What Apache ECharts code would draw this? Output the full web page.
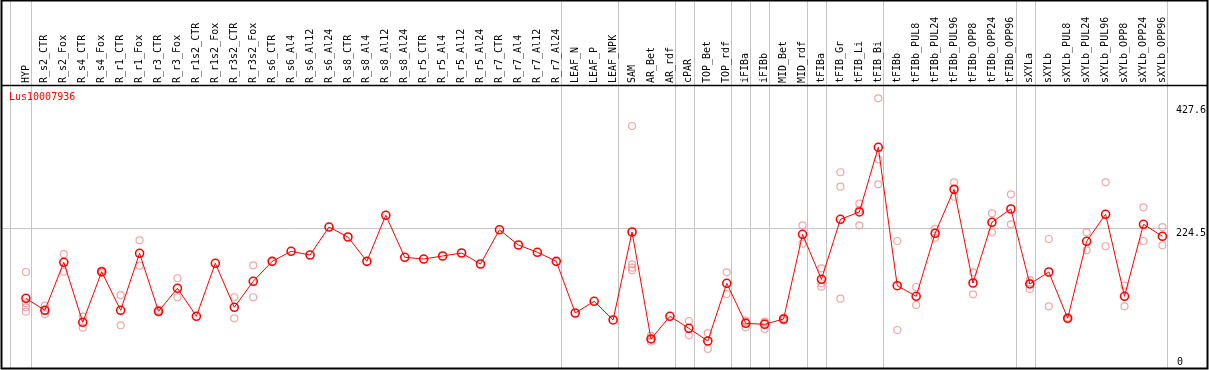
<!DOCTYPE html>
<html>
<head>
<meta charset="utf-8">
<script src="https://cdn.jsdelivr.net/npm/echarts@6/dist/echarts.min.js"></script>
<style>
html,body{margin:0;padding:0;background:#fff;}
#chart{width:1209px;height:370px;}
</style>
</head>
<body>
<div id="chart"></div>
<script>
const title = 'Lus10007936';
const categories = ['HYP','R_s2_CTR','R_s2_Fox','R_s4_CTR','R_s4_Fox','R_r1_CTR','R_r1_Fox','R_r3_CTR','R_r3_Fox','R_r1s2_CTR','R_r1s2_Fox','R_r3s2_CTR','R_r3s2_Fox','R_s6_CTR','R_s6_Al4','R_s6_Al12','R_s6_Al24','R_s8_CTR','R_s8_Al4','R_s8_Al12','R_s8_Al24','R_r5_CTR','R_r5_Al4','R_r5_Al12','R_r5_Al24','R_r7_CTR','R_r7_Al4','R_r7_Al12','R_r7_Al24','LEAF_N','LEAF_P','LEAF_NPK','SAM','AR_Bet','AR_rdf','cPAR','TOP_Bet','TOP_rdf','iFIBa','iFIBb','MID_Bet','MID_rdf','tFIBa','tFIB_Gr','tFIB_Li','tFIB_Bi','tFIBb','tFIBb_PUL8','tFIBb_PUL24','tFIBb_PUL96','tFIBb_OPP8','tFIBb_OPP24','tFIBb_OPP96','sXYLa','sXYLb','sXYLb_PUL8','sXYLb_PUL24','sXYLb_PUL96','sXYLb_OPP8','sXYLb_OPP24','sXYLb_OPP96'];
const means = [109.2,89.4,168.5,69.7,153,89.4,183.3,87.8,125.7,79.6,166.9,94.4,137.2,170.1,186.6,180.5,226.6,210.2,170.1,245.9,176.7,173.9,178.9,183.8,165.7,222,197,185,170.1,85,104.3,73.5,218.4,42.2,79.6,59.8,38.9,133.9,68,66.4,75.1,214.6,140.5,239.3,251.4,357.9,130,112.5,216.3,288.7,134.4,234.4,256.3,132.8,152.5,76.3,203.1,247.6,112.5,231.1,211.3];
const replicates = [
 [152.5,101,94.4,87.1],[97,89,83],[182,153],[79,60.8],[155,151],[114.6,64.7],[204.7,162.9],[90,86],[142.2,110.9],[],
 [],[110.9,76.3],[163.6,110.9],[],[],[],[],[],[],[],
 [],[],[],[],[],[],[],[],[],[],
 [],[],[393,165.2,159.6,155.3],[47.6,42,37.7],[],[71.8,48.3],[52,25.7],[152,116.3],[72.3,70,61.4],[71,69,58.6],
 [77,73],[229.4,199.1],[158.6,134,128.3],[316.8,293,108.6],[265,254.7,229.4],[438.6,338.2,297],[203.6,57],[127.8,98.2],[223.4,209],[300.3,276.6],
 [152,115.8],[249.2,217.9],[280.5,231.1],[139.3,134,124.5],[206.9,96],[78,75],[217.9,188.3],[300.3,194.9],[130,96],[259.1,203.6],
 [226.6,196.5]
];
const yTicksTop = [224.5, 427.6];
const yTicksBottom = [0];
const groupEnds = [0, 28, 31, 34, 35, 37, 38, 39, 41, 42, 45, 52, 53, 60];
const leftFrameLine = -0.84;

const mono = 'DejaVu Sans Mono';
const chart = echarts.init(document.getElementById('chart'), null, {renderer: 'canvas'});

const meanData = means.map((v, i) => [i, v]);
const repData = [];
replicates.forEach((arr, i) => arr.forEach(v => repData.push([i, v])));
const idx = categories.map((c, i) => i);

const xMin = -25 / 19;
const xMax = (1170.5 - 26) / 19;

chart.setOption({
  animation: false,
  backgroundColor: '#fff',
  title: {
    text: title, left: 9, top: 92, padding: 0,
    textStyle: {color: '#ff0000', fontSize: 10, fontWeight: 'normal', fontFamily: mono}
  },
  grid: {left: 1, right: 38.5, top: 105, bottom: 5.4, containLabel: false},
  xAxis: {
    type: 'value', min: xMin, max: xMax, position: 'top', offset: 20,
    axisLine: {show: false}, axisTick: {show: false}, splitLine: {show: false},
    axisLabel: {
      customValues: idx, rotate: 90, margin: 2,
      formatter: v => categories[Math.round(v)] || '',
      fontSize: 10, fontFamily: mono, color: '#000'
    }
  },
  yAxis: [{
    type: 'value', min: 0, max: 427.6, position: 'right',
    axisLine: {show: false}, axisTick: {show: false}, splitLine: {show: false},
    axisLabel: {customValues: yTicksTop, verticalAlign: 'top', margin: 9, fontSize: 10, fontFamily: mono, color: '#000', formatter: v => String(v)}
  }, {
    type: 'value', min: 0, max: 427.6, position: 'right',
    axisLine: {show: false}, axisTick: {show: false}, splitLine: {show: false},
    axisLabel: {customValues: yTicksBottom, verticalAlign: 'bottom', lineHeight: 5, margin: 10, fontSize: 10, fontFamily: mono, color: '#000', formatter: v => String(v)}
  }],
  series: [{
    type: 'scatter', data: repData, clip: false, z: 3,
    symbol: 'circle', symbolSize: 7,
    itemStyle: {color: 'rgba(0,0,0,0)', borderColor: '#f09090', borderWidth: 1.2},
    silent: true
  }, {
    type: 'line', data: meanData, clip: false, z: 4,
    symbol: 'circle', symbolSize: 8, showSymbol: true,
    lineStyle: {color: '#ff0000', width: 1},
    itemStyle: {color: 'rgba(0,0,0,0)', borderColor: '#ff0000', borderWidth: 1.6},
    silent: true
  }]
});

// guide lines computed through the chart's own scales
const g = [];
const sepValues = [leftFrameLine].concat(groupEnds.map(i => i + 0.25));
sepValues.forEach(v => {
  const px = Math.round(chart.convertToPixel({gridIndex: 0}, [v, 0])[0]) + 0.5;
  g.push({type: 'line', z: -1, shape: {x1: px, y1: 0, x2: px, y2: 369}, style: {stroke: '#c4c4c4', lineWidth: 1}});
});
const yGrid = Math.round(chart.convertToPixel({gridIndex: 0}, [0, yTicksTop[0]])[1]) + 0.5;
const xRight = Math.round(chart.convertToPixel({gridIndex: 0}, [groupEnds[groupEnds.length - 1] + 0.25, 0])[0]);
g.push({type: 'line', z: -1, shape: {x1: 1, y1: yGrid, x2: xRight, y2: yGrid}, style: {stroke: '#c4c4c4', lineWidth: 1}});
// frame
g.push({type: 'rect', z: 10, shape: {x: 1.5, y: 0.5, width: 1206, height: 368}, style: {fill: null, stroke: '#000', lineWidth: 2}});
g.push({type: 'line', z: 10, shape: {x1: 1, y1: 85.5, x2: 1208, y2: 85.5}, style: {stroke: '#000', lineWidth: 1.3}});
chart.setOption({graphic: g});
</script>
</body>
</html>
